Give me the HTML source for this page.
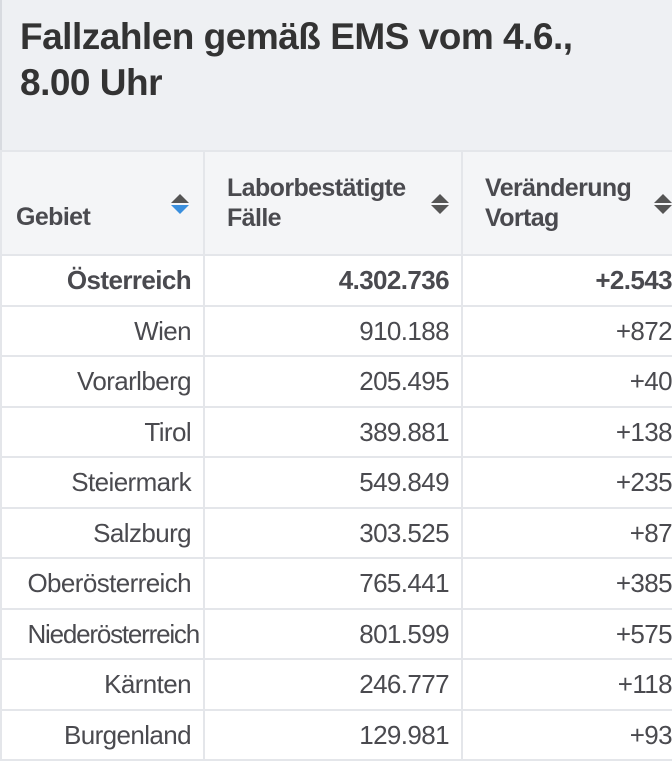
<!DOCTYPE html>
<html><head><meta charset="utf-8"><style>
body{margin:0;width:672px;height:750px;overflow:hidden;background:#fff;font-family:"Liberation Sans Narrow","Liberation Sans",sans-serif;color:#4a4a4f}
.title{position:absolute;left:0;top:0;width:672px;height:150px;background:#eef0f3;border-left:2px solid #d8dbe0;box-sizing:border-box}
.title h1{margin:0;position:absolute;left:18px;top:14px;font-size:37px;line-height:46px;font-weight:bold;color:#333;letter-spacing:-0.5px}
table{position:absolute;left:0;top:150px;border-collapse:collapse;table-layout:fixed;width:672px}
td,th{border:2px solid #e4e6ea;padding:0 12px 0 0;font-size:26px;letter-spacing:-0.6px;text-align:right;white-space:nowrap;overflow:hidden;box-sizing:border-box}
th{height:104px;background:#f4f5f7;text-align:left;padding-left:14px;font-size:25px;line-height:30px;vertical-align:middle;position:relative}
td{height:50.5px;padding-top:0;padding-bottom:0;line-height:46px}
td.c3{padding-right:0}
.b td{font-weight:bold}
.sort{position:absolute;top:42px;width:0}
.up,.dn{width:0;height:0;border-left:9px solid transparent;border-right:9px solid transparent;margin-left:-18px}
.up{border-bottom:9px solid #555;margin-bottom:2px}
.dn{border-top:9px solid #555}
</style></head><body>
<div class="title"><h1>Fallzahlen gemäß EMS vom 4.6.,<br>8.00 Uhr</h1></div>
<table>
<colgroup><col style="width:203px"><col style="width:258px"><col style="width:211px"></colgroup>
<tr>
<th style="vertical-align:bottom;padding-bottom:22px">Gebiet<span class="sort" style="right:14px"><div class="up"></div><div class="dn" style="border-top-color:#3a8fde"></div></span></th>
<th style="padding-left:22px">Laborbestätigte<br>Fälle<span class="sort" style="right:12px"><div class="up"></div><div class="dn"></div></span></th>
<th style="padding-left:22px">Veränderung<br>Vortag<span class="sort" style="right:0px"><div class="up"></div><div class="dn"></div></span></th>
</tr>
<tr class="b"><td>Österreich</td><td>4.302.736</td><td class="c3">+2.543</td></tr>
<tr><td>Wien</td><td>910.188</td><td class="c3">+872</td></tr>
<tr><td>Vorarlberg</td><td>205.495</td><td class="c3">+40</td></tr>
<tr><td>Tirol</td><td>389.881</td><td class="c3">+138</td></tr>
<tr><td>Steiermark</td><td>549.849</td><td class="c3">+235</td></tr>
<tr><td>Salzburg</td><td>303.525</td><td class="c3">+87</td></tr>
<tr><td>Oberösterreich</td><td>765.441</td><td class="c3">+385</td></tr>
<tr><td style="padding-right:4px;letter-spacing:-1.2px">Niederösterreich</td><td>801.599</td><td class="c3">+575</td></tr>
<tr><td>Kärnten</td><td>246.777</td><td class="c3">+118</td></tr>
<tr><td>Burgenland</td><td>129.981</td><td class="c3">+93</td></tr>
</table>
</body></html>
